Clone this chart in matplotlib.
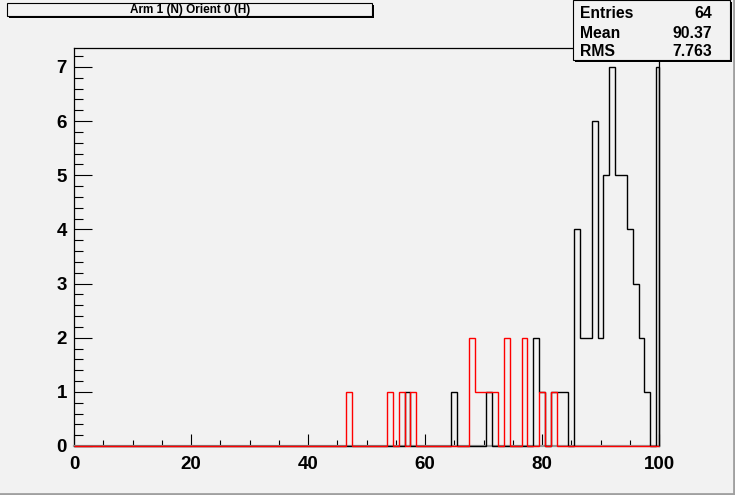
import numpy as np
import matplotlib
matplotlib.use("Agg")
import matplotlib.pyplot as plt
from matplotlib.patches import Rectangle
from matplotlib.ticker import MultipleLocator

# histogram contents, bins centred on integers 0..100
black_bins = [57, 65, 71, 79, 80, 82, 83, 84, 86, 87, 88, 89, 90, 91, 92, 93, 94, 95, 96, 97, 98, 100]
black_counts = [1, 1, 1, 2, 1, 1, 1, 1, 4, 2, 2, 6, 2, 5, 7, 5, 5, 4, 3, 2, 1, 7]
red_bins = [47, 54, 56, 58, 68, 69, 70, 71, 72, 74, 77, 80, 82]
red_counts = [1, 1, 1, 1, 2, 1, 1, 1, 1, 2, 2, 1, 1]

title = "Arm 1 (N) Orient 0 (H)"
stats_names = ["Entries", "Mean", "RMS"]
stats_values = ["64", "90.37", "7.763"]

W, H = 735, 495
bg = "#f2f2f2"
font = "Liberation Sans"


def fx(px):
    return px / W


def fy(py):
    return 1 - py / H


def fill_bins(bins, counts):
    vals = np.zeros(101)
    vals[bins] = counts
    return vals


# bin edges at k-0.5, first/last bin cut at the axis range
edges = np.arange(-0.5, 101.5, 1.0)
edges[0], edges[-1] = 0, 100
black = fill_bins(black_bins, black_counts)
red = fill_bins(red_bins, red_counts)

fig = plt.figure(figsize=(W / 100, H / 100), dpi=100, facecolor=bg)

# frame 74..659 x 48..446 px
ax = fig.add_axes([fx(74), fy(446), fx(659 - 74), (446 - 48) / H])
ax.set_facecolor(bg)
ax.stairs(black, edges, color="black", lw=1.0, baseline=0, zorder=3, clip_on=False)
ax.stairs(red, edges, color="red", lw=1.0, baseline=0, zorder=4, clip_on=False)
ax.set_xlim(0, 100)
ax.set_ylim(0, 7.35)

ax.xaxis.set_major_locator(MultipleLocator(20))
ax.xaxis.set_minor_locator(MultipleLocator(5))
ax.yaxis.set_major_locator(MultipleLocator(1))
ax.yaxis.set_minor_locator(MultipleLocator(0.2))
ax.tick_params(axis="x", which="major", direction="in", length=8.6, width=0.8, pad=7)
ax.tick_params(axis="x", which="minor", direction="in", length=4.3, width=0.8)
ax.tick_params(axis="y", which="major", direction="in", length=12.7, width=0.8, pad=5)
ax.tick_params(axis="y", which="minor", direction="in", length=6.3, width=0.8)
ax.tick_params(top=False, right=False)
for lab in ax.get_xticklabels() + ax.get_yticklabels():
    lab.set_fontfamily(font)
    lab.set_fontweight("bold")
    lab.set_fontsize(13.5)
for sp in ax.spines.values():
    sp.set_linewidth(0.9)
ax.spines["bottom"].set_color("#999999")
ax.spines["bottom"].set_linewidth(1.6)

# canvas border (right/bottom shadow)
fig.add_artist(plt.Line2D([fx(733.5), fx(733.5)], [fy(0), fy(495)], color="#a0a0a0", lw=2))
fig.add_artist(plt.Line2D([fx(0), fx(735)], [fy(493.5), fy(493.5)], color="#a0a0a0", lw=2))


def box(x0, y0, x1, y1):
    # shadow then box
    fig.add_artist(Rectangle((fx(x0 + 2), fy(y1 + 2)), fx(x1 - x0), (y1 - y0) / H,
                             facecolor="black", edgecolor="none", zorder=5))
    fig.add_artist(Rectangle((fx(x0), fy(y1)), fx(x1 - x0), (y1 - y0) / H,
                             facecolor=bg, edgecolor="black", lw=0.8, zorder=6))


# title box
box(7, 3, 372, 16)
fig.text(fx(190), fy(9.5), title, ha="center", va="center", fontsize=8.5,
         fontweight="bold", family=font, zorder=7)

# stats box
box(573, 0, 730, 60)
rows_y = [14, 34, 52]
for name, val, y in zip(stats_names, stats_values, rows_y):
    fig.text(fx(580), fy(y), name, ha="left", va="center", fontsize=11.3,
             fontweight="bold", family=font, zorder=7)
    fig.text(fx(712), fy(y), val, ha="right", va="center", fontsize=11.3,
             fontweight="bold", family=font, zorder=7)

fig.savefig("out.png", dpi=100, facecolor=bg)
